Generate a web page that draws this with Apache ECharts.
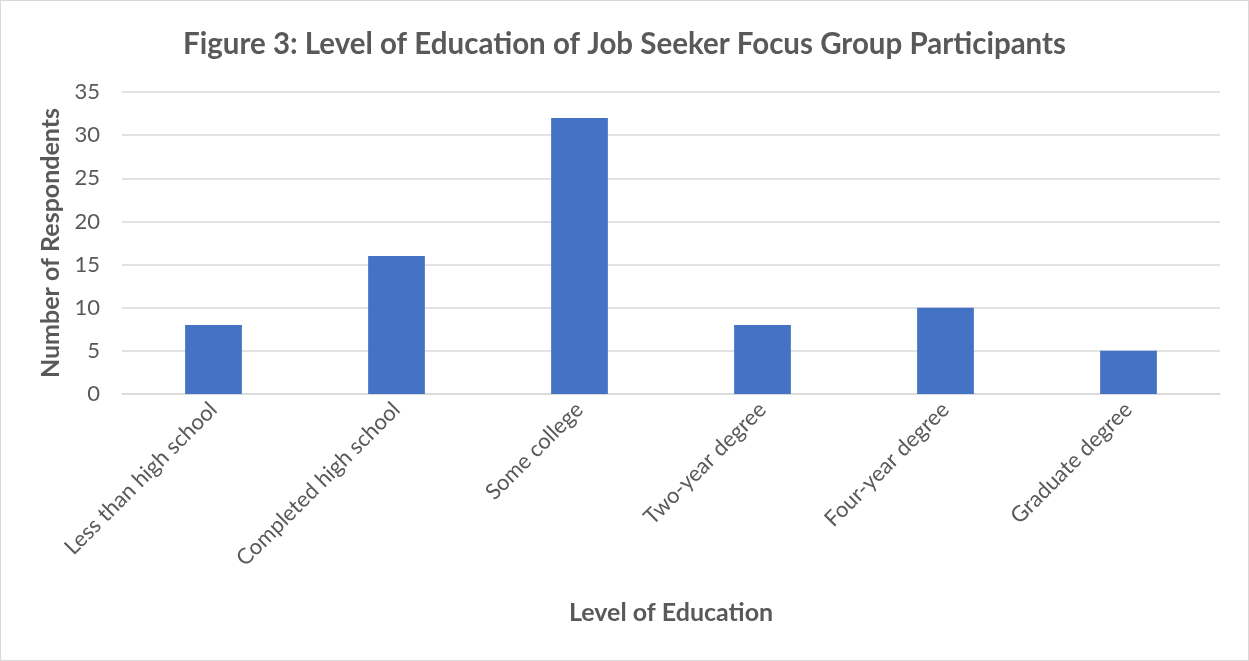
<!DOCTYPE html>
<html>
<head>
<meta charset="utf-8">
<script src="https://cdn.jsdelivr.net/npm/echarts@6/dist/echarts.min.js"></script>
<style>
  html, body { margin: 0; padding: 0; background: #fff; }
  #chart { position: absolute; left: 0; top: 0; width: 1247px; height: 659px; border: 1px solid #d9d9d9; }
</style>
</head>
<body>
<div id="chart"></div>
<script>
const categories = ['Less than high school', 'Completed high school', 'Some college', 'Two-year degree', 'Four-year degree', 'Graduate degree'];
const respondents = [8, 16, 32, 8, 10, 5];
const titleText = 'Figure 3: Level of Education of Job Seeker Focus Group Participants';
const xName = 'Level of Education';
const yName = 'Number of Respondents';

const FONT = 'Lato, "Open Sans", sans-serif';
const chart = echarts.init(document.getElementById('chart'));
chart.setOption({
  animation: false,
  title: {
    text: titleText,
    left: 'center',
    top: 23,
    textStyle: { fontFamily: FONT, fontSize: 29.5, fontWeight: 'bold', color: '#595959' }
  },
  grid: { left: 121, right: 28, top: 91, bottom: 266, containLabel: false },
  xAxis: {
    type: 'category',
    data: categories,
    name: xName,
    nameLocation: 'middle',
    nameGap: 206,
    nameTextStyle: { fontFamily: FONT, fontSize: 25, fontWeight: 'bold', color: '#595959' },
    axisLine: { lineStyle: { color: '#d9d9d9', width: 1.5 } },
    axisTick: { show: false },
    axisLabel: { rotate: 45, interval: 0, margin: 12, fontFamily: FONT, fontSize: 22, color: '#595959' }
  },
  yAxis: {
    type: 'value',
    min: 0, max: 35, interval: 5,
    name: yName,
    nameLocation: 'middle',
    nameGap: 57,
    nameTextStyle: { fontFamily: FONT, fontSize: 25, fontWeight: 'bold', color: '#595959' },
    axisLine: { show: false },
    axisTick: { show: false },
    axisLabel: { margin: 22, fontFamily: FONT, fontSize: 22, color: '#595959' },
    splitLine: { lineStyle: { color: '#d9d9d9', width: 1.5 } }
  },
  series: [{
    type: 'bar',
    data: respondents,
    barWidth: '31%',
    itemStyle: { color: '#4472c4' }
  }]
});
</script>
</body>
</html>
